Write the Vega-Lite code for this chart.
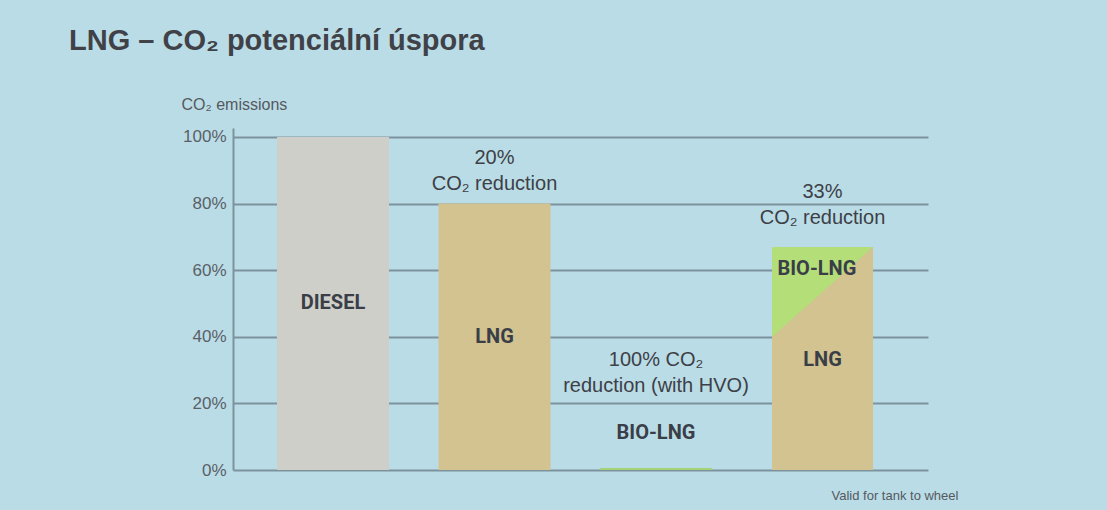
{
  "$schema": "https://vega.github.io/schema/vega-lite/v6.json",
  "width": 695,
  "height": 342,
  "autosize": {"type": "none"},
  "padding": {"left": 233, "top": 128, "right": 179, "bottom": 40},
  "background": "#badce6",
  "config": {"view": {"stroke": null}, "font": "Liberation Sans"},
  "title": {
    "text": "LNG – CO₂ potenciální úspora",
    "anchor": "start",
    "frame": "group",
    "dx": -164,
    "offset": 17,
    "baseline": "alphabetic",
    "font": "Liberation Sans",
    "fontSize": 29,
    "fontWeight": "bold",
    "color": "#404248"
  },
  "datasets": {
    "bars": [
      {"slot": "1", "fuel": "DIESEL", "value": 100},
      {"slot": "2", "fuel": "LNG", "value": 80},
      {"slot": "3", "fuel": "BIO-LNG", "value": 0.6}
    ],
    "mix": [
      {"slot": "4", "fuel": "LNG", "value": 67, "lng_left": 40}
    ],
    "inner": [
      {"slot": "1", "text": "DIESEL", "level": 50},
      {"slot": "2", "text": "LNG", "level": 40},
      {"slot": "3", "text": "BIO-LNG", "level": 11}
    ],
    "inner4": [
      {"slot": "4", "text": "LNG", "level": 33},
      {"slot": "4", "text": "BIO-LNG", "level": 60.4}
    ],
    "notes": [
      {"slot": "2", "text": ["20%", "CO₂ reduction"], "level": 93.7},
      {"slot": "3", "text": ["100% CO₂", "reduction (with HVO)"], "level": 33},
      {"slot": "4", "text": ["33%", "CO₂ reduction"], "level": 83.5}
    ]
  },
  "layer": [
    {
      "data": {"name": "bars"},
      "mark": {"type": "bar"},
      "encoding": {
        "x": {
          "field": "slot",
          "type": "nominal",
          "scale": {"domain": ["1", "2", "3", "4"], "paddingInner": 0.3065, "paddingOuter": 0.305, "align": 0.4467},
          "axis": {
            "labels": false,
            "ticks": false,
            "domain": false,
            "title": "Valid for tank to wheel",
            "titleX": 598,
            "titleY": 25,
            "titleAlign": "left",
            "titleBaseline": "middle",
            "titleFontSize": 13,
            "titleFontWeight": "normal",
            "titleColor": "#55595e",
            "titleFont": "Liberation Sans"
          }
        },
        "y": {
          "field": "value",
          "type": "quantitative",
          "scale": {"domain": [0, 102.7], "nice": false},
          "axis": {
            "values": [0, 20, 40, 60, 80, 100],
            "labelExpr": "datum.value + '%'",
            "grid": true,
            "gridColor": "#7c939e",
            "gridWidth": 2,
            "domainColor": "#7c939e",
            "domainWidth": 2,
            "ticks": false,
            "labelPadding": 7,
            "labelFontSize": 17,
            "labelColor": "#5b6066",
            "labelFont": "Liberation Sans",
            "title": "CO₂ emissions",
            "titleAngle": 0,
            "titleAlign": "left",
            "titleBaseline": "alphabetic",
            "titleX": -52,
            "titleY": -19,
            "titleFontSize": 16,
            "titleFontWeight": "normal",
            "titleColor": "#55595e",
            "titleFont": "Liberation Sans"
          }
        },
        "color": {
          "field": "fuel",
          "type": "nominal",
          "scale": {"domain": ["DIESEL", "LNG", "BIO-LNG"], "range": ["#cfcfca", "#d2c391", "#a3d277"]},
          "legend": null
        }
      }
    },
    {
      "data": {"name": "mix"},
      "mark": {"type": "bar", "width": 101, "xOffset": 5},
      "encoding": {
        "x": {"field": "slot", "type": "nominal"},
        "y": {"field": "value", "type": "quantitative"},
        "color": {"field": "fuel", "type": "nominal"}
      }
    },
    {
      "data": {"name": "mix"},
      "mark": {"type": "point", "shape": "M 0 0 L 2 0 L 0 1.782 Z", "size": 10201, "filled": true, "color": "#b3de78", "opacity": 1, "strokeWidth": 0, "xOffset": -45.5},
      "encoding": {
        "x": {"field": "slot", "type": "nominal"},
        "y": {"field": "value", "type": "quantitative"}
      }
    },
    {
      "data": {"name": "inner"},
      "mark": {"type": "text", "font": "Roboto", "fontWeight": "bold", "fontSize": 20, "color": "#3a3e47", "baseline": "middle", "align": "center"},
      "encoding": {
        "x": {"field": "slot", "type": "nominal"},
        "y": {"field": "level", "type": "quantitative"},
        "text": {"field": "text"}
      }
    },
    {
      "data": {"name": "inner4"},
      "transform": [{"filter": "datum.text == 'LNG'"}],
      "mark": {"type": "text", "font": "Roboto", "fontWeight": "bold", "fontSize": 20, "color": "#3a3e47", "baseline": "middle", "align": "center", "dx": 5},
      "encoding": {
        "x": {"field": "slot", "type": "nominal"},
        "y": {"field": "level", "type": "quantitative"},
        "text": {"field": "text"}
      }
    },
    {
      "data": {"name": "inner4"},
      "transform": [{"filter": "datum.text == 'BIO-LNG'"}],
      "mark": {"type": "text", "font": "Roboto", "fontWeight": "bold", "fontSize": 20, "color": "#3a3e47", "baseline": "middle", "align": "left", "dx": -40},
      "encoding": {
        "x": {"field": "slot", "type": "nominal"},
        "y": {"field": "level", "type": "quantitative"},
        "text": {"field": "text"}
      }
    },
    {
      "data": {"name": "notes"},
      "transform": [{"filter": "datum.slot != '4'"}],
      "mark": {"type": "text", "font": "Liberation Sans", "fontSize": 20, "color": "#3d4046", "baseline": "middle", "align": "center", "lineHeight": 26},
      "encoding": {
        "x": {"field": "slot", "type": "nominal"},
        "y": {"field": "level", "type": "quantitative"},
        "text": {"field": "text"}
      }
    },
    {
      "data": {"name": "notes"},
      "transform": [{"filter": "datum.slot == '4'"}],
      "mark": {"type": "text", "font": "Liberation Sans", "fontSize": 20, "color": "#3d4046", "baseline": "middle", "align": "center", "lineHeight": 26, "dx": 5},
      "encoding": {
        "x": {"field": "slot", "type": "nominal"},
        "y": {"field": "level", "type": "quantitative"},
        "text": {"field": "text"}
      }
    }
  ]
}
